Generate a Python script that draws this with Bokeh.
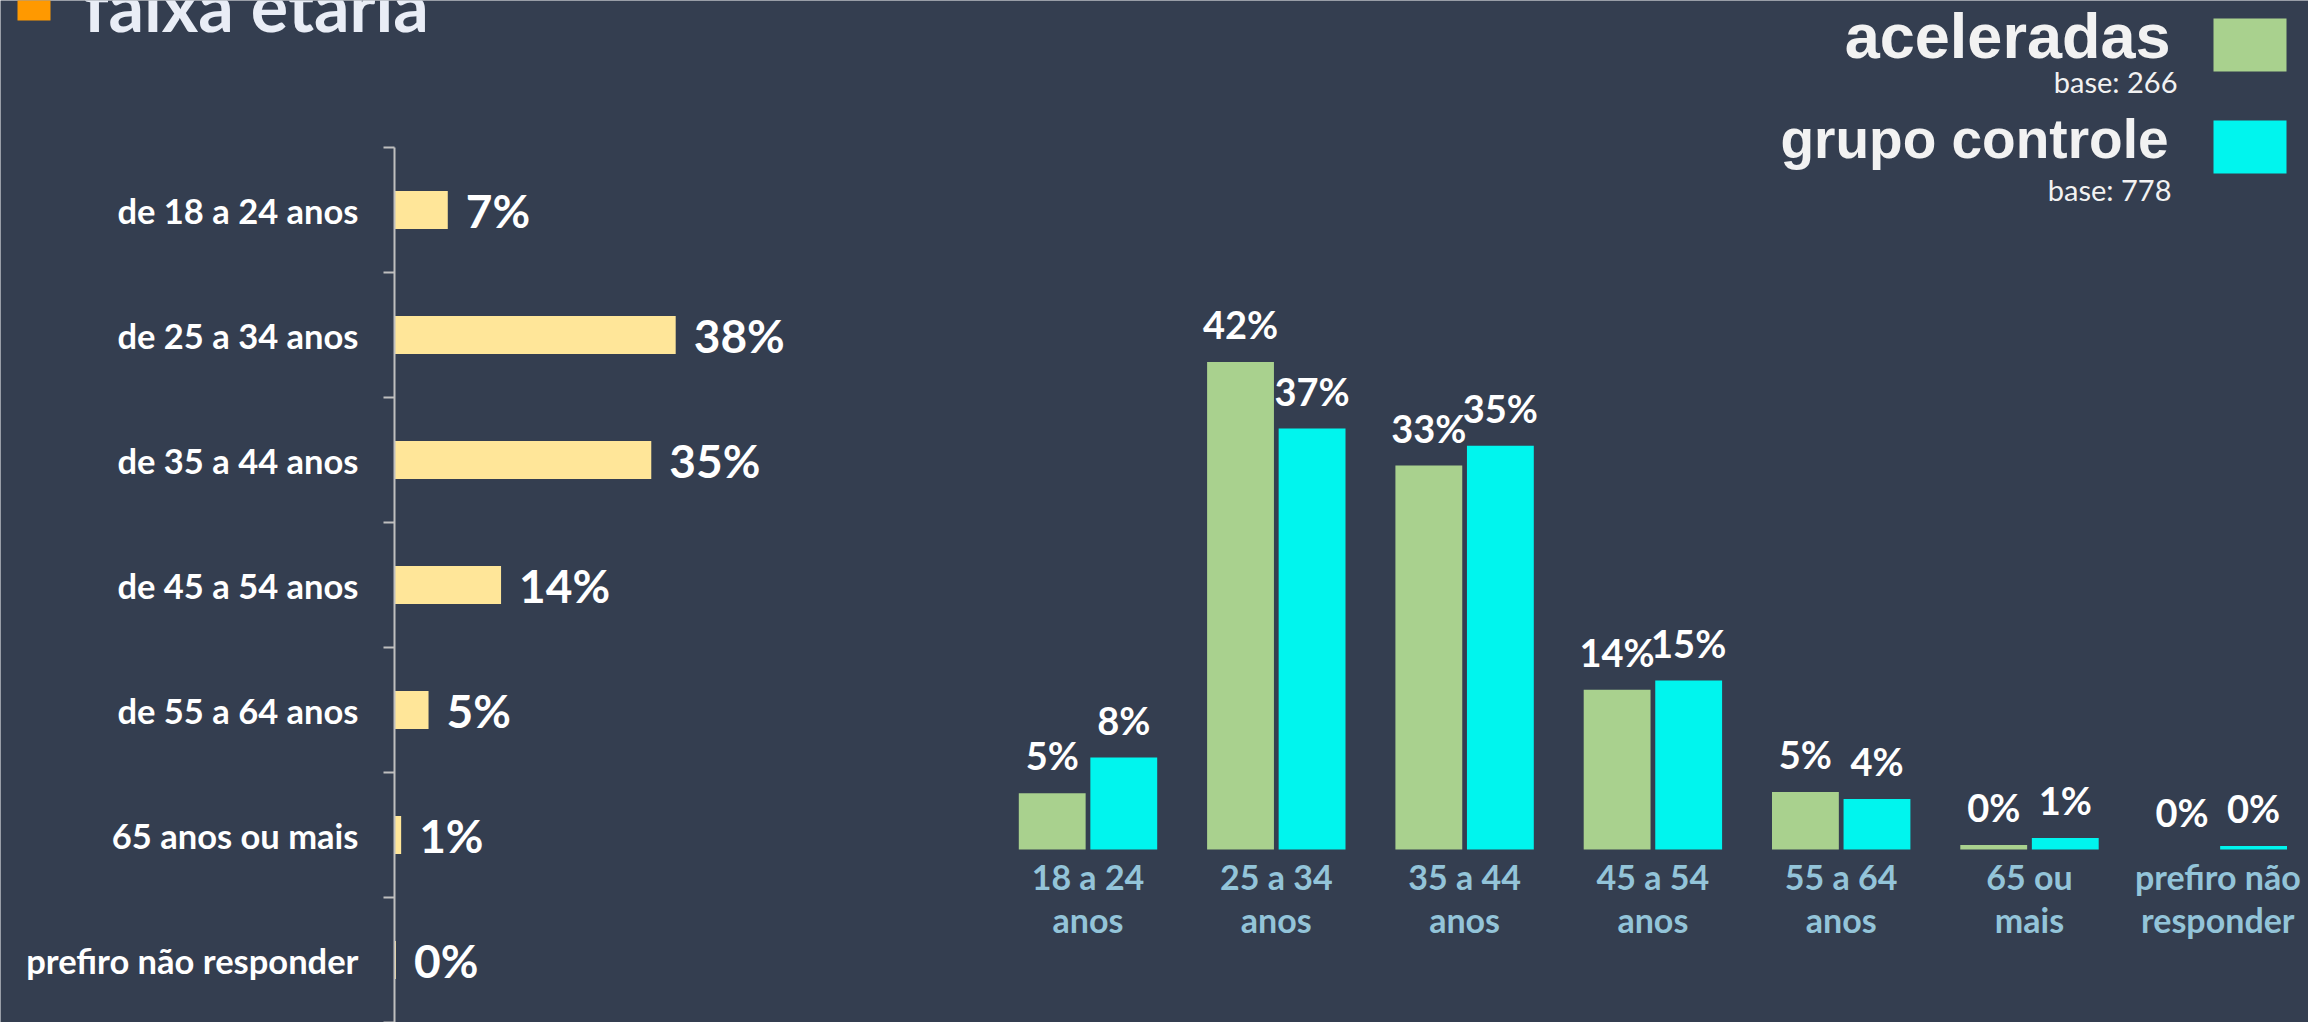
from bokeh.plotting import figure
from bokeh.models import (Range1d, LinearAxis, FixedTicker, Label, BoxAnnotation,
                          ColumnDataSource)
from bokeh.core.properties import value
from bokeh.embed import file_html
from bokeh.resources import INLINE

# ---------------- data ----------------
title_text = "faixa etaria"

left_categories = ["de 18 a 24 anos", "de 25 a 34 anos", "de 35 a 44 anos",
                   "de 45 a 54 anos", "de 55 a 64 anos", "65 anos ou mais",
                   "prefiro não responder"]
left_values = [7.2, 38.0, 34.7, 14.4, 4.6, 0.9, 0.2]
left_labels = ["7%", "38%", "35%", "14%", "5%", "1%", "0%"]

right_categories = ["18 a 24\nanos", "25 a 34\nanos", "35 a 44\nanos",
                    "45 a 54\nanos", "55 a 64\nanos", "65 ou\nmais",
                    "prefiro não\nresponder"]
acel_values = [4.9, 42.4, 33.4, 13.9, 5.0, 0.4, 0.0]
acel_labels = ["5%", "42%", "33%", "14%", "5%", "0%", "0%"]
ctrl_values = [8.0, 36.6, 35.1, 14.7, 4.4, 1.0, 0.3]
ctrl_labels = ["8%", "37%", "35%", "15%", "4%", "1%", "0%"]

series_names = ["aceleradas", "grupo controle"]
series_bases = ["base: 266", "base: 778"]

# ---------------- style / layout constants (page pixels) ----------------
BG = "#343E50"
YELLOW = "#FFE699"
GREEN = "#A9D18E"
CYAN = "#00F5EE"
AXIS = "#BFBFBF"
XLAB = "#93C4D9"
FONT = "Lato"

PX0, PX1, PY0, PY1 = 0, 2308, 0, 1022   # canvas extent on the page

# left chart scale
L_ZERO = 394      # page x of 0 %
L_XS = 7.4        # px per percent
L_TOP = 147       # page y of the first category boundary
L_BAND = 125      # px per category

# right chart scale
C0 = 1087.5       # page x of the first category centre
UNIT = 188.3      # px per category
BASE = 849        # page y of the bars' base
YS = 11.5         # px per percent

# "middle" text anchor sits this fraction of the font size above the baseline
LATO_MID = 0.387
LIB_MID = 0.346

n_left = len(left_categories)
n_right = len(right_categories)

p = figure(width=PX1 - PX0, height=PY1 - PY0, output_backend="svg",
           toolbar_location=None,
           x_range=Range1d((PX0 - C0) / UNIT, (PX1 - C0) / UNIT),
           y_range=Range1d((BASE - PY1) / YS, (BASE - PY0) / YS),
           x_axis_location=None, y_axis_location=None,
           min_border_left=0, min_border_right=0, min_border_top=0,
           min_border_bottom=0)
p.extra_x_ranges = {"lx": Range1d((PX0 - L_ZERO) / L_XS, (PX1 - L_ZERO) / L_XS)}
p.extra_y_ranges = {"ly": Range1d(start=(PY1 - L_TOP) / L_BAND - 0.5,
                                  end=(PY0 - L_TOP) / L_BAND - 0.5)}
p.background_fill_color = BG
p.border_fill_color = BG
p.outline_line_color = None
p.grid.visible = False

# ---------------- left chart ----------------
yax = LinearAxis(x_range_name="lx", y_range_name="ly", fixed_location=0,
                 bounds=(-0.5, n_left - 0.5),
                 ticker=FixedTicker(ticks=list(range(n_left)),
                                    minor_ticks=[i - 0.5 for i in range(n_left + 1)]))
yax.major_label_overrides = {i: c for i, c in enumerate(left_categories)}
yax.axis_line_color = AXIS
yax.axis_line_width = 2
yax.major_tick_line_color = None
yax.major_tick_in = 0
yax.major_tick_out = 0
yax.minor_tick_line_color = AXIS
yax.minor_tick_line_width = 2
yax.minor_tick_in = 0
yax.minor_tick_out = 11
yax.major_label_standoff = 25
yax.major_label_text_font = FONT
yax.major_label_text_font_style = "bold"
yax.major_label_text_font_size = "34.5px"
yax.major_label_text_color = "#FFFFFF"
p.add_layout(yax, "left")

src_left = ColumnDataSource(dict(y=list(range(n_left)), v=left_values, lab=left_labels))
p.hbar(y="y", left=0, right="v", height=0.304, source=src_left,
       fill_color=YELLOW, line_color=None, x_range_name="lx", y_range_name="ly")
p.text(x="v", y="y", text="lab", source=src_left, x_offset=18, y_offset=0,
       text_align="left", text_baseline="middle", text_color="#FFFFFF",
       text_font=value(FONT), text_font_style="bold", text_font_size="46px",
       x_range_name="lx", y_range_name="ly")


def lx(px):
    return (px - L_ZERO) / L_XS


def ly(py):
    return (py - L_TOP) / L_BAND - 0.5


# title (its top is cut by the page edge, as in the reference)
TITLE_FS = 70
p.add_layout(Label(x=lx(83), y=ly(32 - LATO_MID * TITLE_FS), x_range_name="lx",
                   y_range_name="ly", text=title_text, text_align="left",
                   text_baseline="middle", text_font=FONT, text_font_style="bold",
                   text_font_size="%dpx" % TITLE_FS, text_color="#E9EDF6"))
p.add_layout(BoxAnnotation(left=lx(17), right=lx(50), top=ly(-14), bottom=ly(20),
                           x_range_name="lx", y_range_name="ly",
                           fill_color="#FF9900", fill_alpha=1.0, line_color=None))

# ---------------- right chart ----------------
xax = LinearAxis(fixed_location=0, ticker=FixedTicker(ticks=list(range(n_right))))
xax.major_label_overrides = {i: c for i, c in enumerate(right_categories)}
xax.axis_line_color = None
xax.major_tick_line_color = None
xax.minor_tick_line_color = None
xax.major_tick_in = 0
xax.major_tick_out = 0
xax.major_label_standoff = 6
xax.major_label_text_font = FONT
xax.major_label_text_font_style = "bold"
xax.major_label_text_font_size = "34px"
xax.major_label_text_color = XLAB
xax.major_label_text_line_height = 1.05
p.add_layout(xax, "below")

OFF = 0.19
W = 0.355
VAL_FS = 38
src_a = ColumnDataSource(dict(x=[i - OFF for i in range(n_right)], v=acel_values, lab=acel_labels))
src_c = ColumnDataSource(dict(x=[i + OFF for i in range(n_right)], v=ctrl_values, lab=ctrl_labels))
p.vbar(x="x", top="v", bottom=0, width=W, source=src_a, fill_color=GREEN, line_color=None)
p.vbar(x="x", top="v", bottom=0, width=W, source=src_c, fill_color=CYAN, line_color=None)
for s in (src_a, src_c):
    p.text(x="x", y="v", text="lab", source=s, y_offset=-(23 + LATO_MID * VAL_FS),
           text_align="center", text_baseline="middle", text_color="#FFFFFF",
           text_font=value(FONT), text_font_style="bold",
           text_font_size="%dpx" % VAL_FS)


# legend
def rx(px):
    return (px - C0) / UNIT


def ry(py):
    return (BASE - py) / YS


leg_name_pos = [(2170, 57, 63), (2168, 158, 55)]
leg_base_pos = [(2177, 92), (2171, 200)]
BASE_FS = 29
leg_box_y = [44.5, 146.5]
for name, base, (nx, ny, fs), (bx, by), boxy, col in zip(series_names, series_bases,
                                                          leg_name_pos, leg_base_pos,
                                                          leg_box_y, [GREEN, CYAN]):
    p.add_layout(Label(x=rx(nx), y=ry(ny - LIB_MID * fs), text=name, text_align="right",
                       text_baseline="middle", text_font="Liberation Sans",
                       text_font_style="bold", text_font_size="%dpx" % fs,
                       text_color="#F2F2F2"))
    p.add_layout(Label(x=rx(bx), y=ry(by - LATO_MID * BASE_FS), text=base,
                       text_align="right", text_baseline="middle", text_font=FONT,
                       text_font_size="%dpx" % BASE_FS, text_color="#F2F2F2"))
    p.rect(x=[rx(2249.5)], y=[ry(boxy)], width=73, height=53, width_units="screen",
           height_units="screen", fill_color=col, line_color=None)

html = file_html(p, INLINE)
html = html.replace("<body>", '<body style="background-color:%s;">' % BG, 1)
open("out.html", "w").write(html)
